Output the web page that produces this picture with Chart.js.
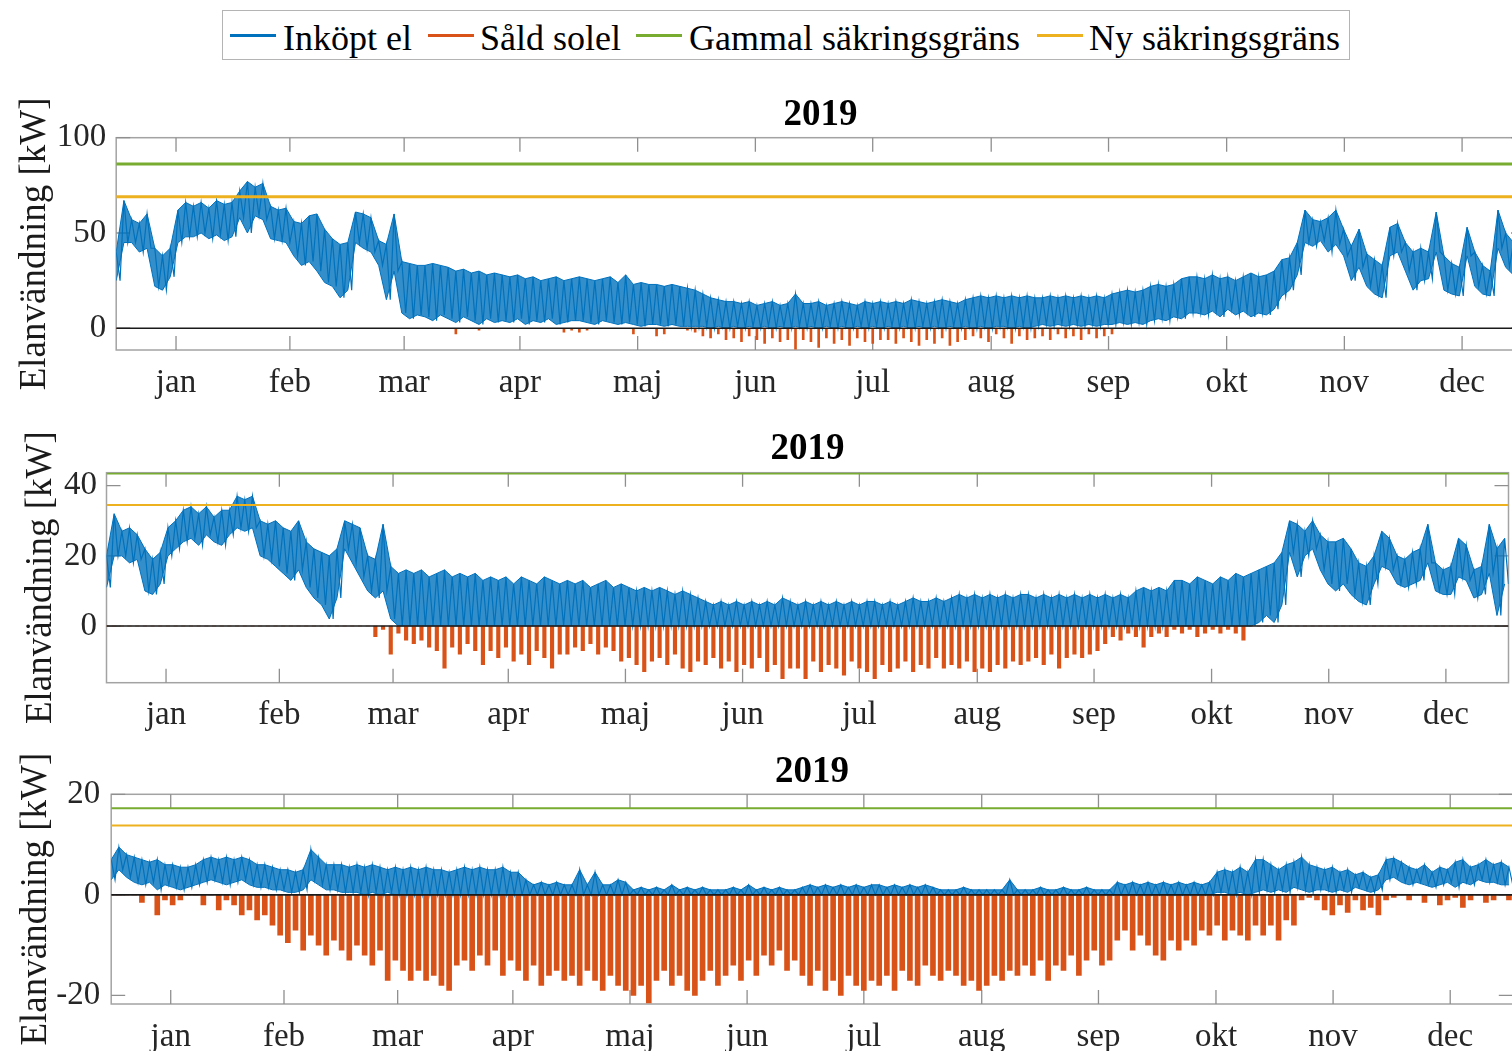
<!DOCTYPE html>
<html><head><meta charset="utf-8">
<script src="https://cdn.jsdelivr.net/npm/chart.js@4.4.1/dist/chart.umd.min.js"></script>
<style>
html,body{margin:0;padding:0;background:#fff;width:1512px;height:1051px;overflow:hidden;position:relative;font-family:"Liberation Serif","Times New Roman",serif;}
canvas{position:absolute;left:0;}
#legend{position:absolute;left:222px;top:10px;width:1128px;height:50px;border:1px solid #b4b4b4;box-sizing:border-box;background:#fff;}
.sw{position:absolute;height:2.5px;top:23px;width:46px;}
.lt{position:absolute;top:9px;font-size:36px;line-height:36px;color:#000;white-space:nowrap;}
</style></head>
<body>
<div id="legend">
  <div class="sw" style="left:7px;background:#0072BD"></div><span class="lt" style="left:60px">Inköpt el</span>
  <div class="sw" style="left:205px;background:#D95319"></div><span class="lt" style="left:257px">Såld solel</span>
  <div class="sw" style="left:413px;background:#77AC30"></div><span class="lt" style="left:466px">Gammal säkringsgräns</span>
  <div class="sw" style="left:814px;background:#EDB120"></div><span class="lt" style="left:866px">Ny säkringsgräns</span>
</div>
<canvas id="c1" width="1540" height="340" style="top:70px"></canvas>
<canvas id="c2" width="1540" height="330" style="top:410px"></canvas>
<canvas id="c3" width="1540" height="311" style="top:740px"></canvas>
<script>
// ---------- DATA (2-day samples, 183 per series, Jan 1 .. Dec 31 2019) ----------
const MONTHS = ['jan','feb','mar','apr','maj','jun','jul','aug','sep','okt','nov','dec'];
const TICK_DAYS = [15.5, 45, 74.6, 104.6, 135.1, 165.6, 196, 226.7, 257.1, 287.7, 318.2, 348.7];
const TITLE = '2019';
const Y_LABEL = 'Elanvändning [kW]';
const GAMMAL_GRANS = [86.25, 43.47, 17.25];
const NY_GRANS = [69, 34.5, 13.8];
const Y_TICKS = [[0, 50, 100], [0, 20, 40], [-20, 0, 20]];
const Y_MIN = [-11.4, -16.15, -21.7];
const Y_MAX = [100, 43.7, 20];

const P1_INKOPT_MAX = [
 40,67,57,55,60,42,38,42,62,66,
 64,66,63,67,65,66,72,77,74,76,
 64,62,63,56,55,59,60,52,47,44,
 45,61,60,58,46,44,60,35,34,33,
 33,34,33,32,30,31,29,30,28,29,
 28,27,28,26,27,25,26,27,25,26,
 27,26,25,26,27,24,28,23,24,23,
 23,22,23,22,21,20,18,16,15,14,
 14,13,14,12,13,14,12,13,18,13,
 13,14,12,13,14,13,12,14,13,14,
 13,14,13,15,14,13,14,15,14,13,
 15,16,17,16,17,16,17,16,17,16,
 16,17,16,17,16,17,16,17,16,18,
 19,20,19,20,22,23,22,23,26,27,
 27,26,28,26,27,25,27,29,27,28,
 30,36,37,45,62,57,56,58,62,52,
 43,52,39,36,33,53,55,45,40,42,
 40,61,38,34,32,53,40,33,30,62,
 50,45,48];
const P1_INKOPT_MIN = [
 25,45,45,40,42,22,20,27,45,48,
 48,50,47,49,46,48,58,50,59,57,
 47,46,45,38,33,35,30,24,22,16,
 20,45,42,40,33,15,30,8,5,7,
 6,4,7,5,3,6,4,2,5,3,
 4,3,5,2,4,3,5,2,3,4,
 4,3,2,4,3,2,3,2,1,2,
 2,1,2,1,1,1,1,0,1,0,
 1,0,1,0,1,0,1,0,1,0,
 1,0,1,0,1,0,1,0,1,0,
 1,0,1,0,1,0,1,0,1,0,
 1,0,1,0,1,1,0,1,0,1,
 2,1,2,1,2,1,2,1,2,2,
 3,2,3,2,4,5,4,6,5,8,
 8,7,9,6,10,7,9,6,8,7,
 10,17,20,28,45,43,46,40,44,38,
 25,32,22,18,16,38,40,30,20,25,
 26,40,20,18,17,38,22,18,17,42,
 32,28,30];
const P1_SALD = [
 0,0,0,0,0,0,0,0,0,0,
 0,0,0,0,0,0,0,0,0,0,
 0,0,0,0,0,0,0,0,0,0,
 0,0,0,0,0,0,0,0,0,0,
 0,0,0,0,-3,0,0,-1,0,0,
 0,0,0,0,0,0,0,0,-2,-1,
 -2,-1,0,0,0,0,0,-3,0,0,
 -4,-3,0,0,-1,-2,-4,-5,-3,-6,
 -5,-7,-4,-6,-8,-5,-7,-6,-11,-6,
 -7,-10,-5,-8,-6,-9,-5,-7,-8,-6,
 -6,-8,-5,-7,-9,-6,-8,-5,-9,-7,
 -6,-4,-5,-7,-3,-5,-8,-4,-6,-5,
 -4,-6,-3,-5,-4,-6,-3,-5,-4,-3,
 0,0,0,0,0,0,0,0,0,0,
 0,0,0,0,0,0,0,0,0,0,
 0,0,0,0,0,0,0,0,0,0,
 0,0,0,0,0,0,0,0,0,0,
 0,0,0,0,0,0,0,0,0,0,
 0,0,0];

const P2_INKOPT_MAX = [
 20,32,27,28,26,22,19,21,28,30,
 33,34,32,34,31,33,33,37,36,37,
 30,29,30,28,27,30,24,22,21,20,
 22,30,29,28,20,19,29,17,15,16,
 15,16,14,15,16,14,15,14,15,13,
 14,13,14,12,14,13,12,14,13,12,
 13,12,13,11,12,13,11,12,11,10,
 11,10,11,10,9,10,9,8,7,6,
 7,6,7,6,7,6,7,6,8,7,
 6,7,6,7,6,7,6,7,6,7,
 7,6,7,6,7,8,7,7,8,7,
 8,9,8,9,8,9,8,9,8,9,
 9,8,9,8,9,8,9,8,9,8,
 9,8,9,8,10,11,10,11,10,13,
 13,12,14,13,12,14,13,15,14,15,
 16,17,18,21,30,29,27,30,26,24,
 24,25,22,18,17,20,27,25,20,19,
 21,22,29,18,16,17,25,23,16,17,
 29,22,25];
const P2_INKOPT_MIN = [
 11,20,20,18,19,10,9,12,20,22,
 24,25,23,26,24,23,26,28,27,28,
 20,19,17,15,13,16,11,8,6,2,
 8,22,18,14,10,8,10,2,0,0,
 0,0,0,0,0,0,0,0,0,0,
 0,0,0,0,0,0,0,0,0,0,
 0,0,0,0,0,0,0,0,0,0,
 0,0,0,0,0,0,0,0,0,0,
 0,0,0,0,0,0,0,0,0,0,
 0,0,0,0,0,0,0,0,0,0,
 0,0,0,0,0,0,0,0,0,0,
 0,0,0,0,0,0,0,0,0,0,
 0,0,0,0,0,0,0,0,0,0,
 0,0,0,0,0,0,0,0,0,0,
 0,0,0,0,0,0,0,0,0,0,
 1,3,1,6,21,14,20,22,16,12,
 10,12,9,7,6,12,17,16,12,11,
 12,13,18,10,9,9,14,13,8,9,
 15,3,12];
const P2_SALD = [
 0,0,0,0,0,0,0,0,0,0,
 0,0,0,0,0,0,0,0,0,0,
 0,0,0,0,0,0,0,0,0,0,
 0,0,0,0,0,-3,-1,-8,-2,-4,
 -5,-4,-6,-7,-12,-6,-8,-5,-7,-11,
 -7,-9,-6,-10,-8,-11,-7,-9,-12,-8,
 -8,-6,-7,-5,-8,-6,-7,-10,-9,-11,
 -13,-10,-9,-11,-8,-12,-13,-10,-11,-9,
 -12,-10,-13,-11,-12,-9,-13,-11,-15,-12,
 -12,-15,-10,-13,-11,-12,-14,-10,-12,-13,
 -15,-11,-13,-12,-10,-13,-11,-12,-9,-12,
 -11,-12,-10,-13,-12,-13,-11,-12,-10,-11,
 -10,-9,-11,-8,-12,-9,-8,-9,-8,-7,
 -5,-3,-4,-2,-3,-6,-3,-2,-3,-1,
 -2,-1,-3,-2,-1,-2,-1,-2,-4,0,
 0,0,0,0,0,0,0,0,0,0,
 0,0,0,0,0,0,0,0,0,0,
 0,0,0,0,0,0,0,0,0,0,
 0,0,0];

const P3_INKOPT_MAX = [
 7,9.5,8,7.5,7,6.5,7,6,6,5.5,
 5.5,6,7,7.5,7,7.5,7,7.5,7,6,
 6,5.5,5,5,4.5,5,9,7.5,6,6,
 6,5.5,6,5.5,6,5.5,5,5.5,5,5.5,
 5,5.5,5,5,4.5,5,5.5,5,5.5,5,
 5,5.5,4.5,4.5,3,2,2.5,2,2.5,2,
 2,5,2,4.5,2,2,3,2.5,1,1.5,
 1,1.5,1,2,1,1.5,1,1.5,1,1,
 1,1.5,1,2,1,1.5,1,1.5,1,1,
 1.5,2,1.5,2,1.5,2,1.5,2,1.5,2,
 2,1.5,2,1.5,2,1.5,2,1.5,1,1,
 1,1.5,1,1,1,1,1,3,1,1,
 1,1.5,1,1,1.5,1,1,1.5,1,1,
 1,2.5,2,2.5,2,2.5,2,2.5,2,2.5,
 2,2.5,2,2.5,4.5,5,4.5,5.5,4.5,7,
 7,6,5,6,6.5,7.5,6,5.5,5,5.5,
 4.5,5,4,4.5,3.5,4,7,7.3,6.5,5.5,
 5,6,4.5,5.5,5,6.5,7,5.5,6,7,
 6,6.5,5.5];
const P3_INKOPT_MIN = [
 3,5,3.5,2.5,2,2.5,1,2,1.5,1,
 1.5,2,2.5,3,2.5,2,2.5,3,2,1.5,
 1.5,1,1,0.5,0.5,1,3,2,1,1,
 0.5,0.5,0.5,0,0.5,0,0.5,0,0,0,
 0,0,0,0,0,0,0,0,0,0,
 0,0,0,0,0,0,0,0,0,0,
 0,0,0,0,0,0,0,0,0,0,
 0,0,0,0,0,0,0,0,0,0,
 0,0,0,0,0,0,0,0,0,0,
 0,0,0,0,0,0,0,0,0,0,
 0,0,0,0,0,0,0,0,0,0,
 0,0,0,0,0,0,0,0,0,0,
 0,0,0,0,0,0,0,0,0,0,
 0,0,0,0,0,0,0,0,0,0,
 0,0,0,0,0.5,0.5,0,0.5,0,0.5,
 1,0.5,1,0.5,1.5,1,0.5,1,1,0.5,
 1,0.5,1.5,1,0.5,1,3,3.5,2.5,2,
 2.5,2,1.5,2,2.5,1.5,2.5,2,3,2.5,
 2.5,2,2];
const P3_SALD = [
 0,0,0,0,-1.5,0,-4,-1,-2,-1,
 0,0,-2,0,-3,-1,-2,-4,-3,-5,
 -4,-6,-8,-9.5,-7,-11,-8,-10,-12,-9,
 -11,-13,-10,-12,-14,-11,-17,-13,-15,-17,
 -15,-17,-16,-18,-19,-14,-13,-15,-12,-14,
 -11,-16,-13,-15,-17,-14,-18,-16,-15,-17,
 -16,-18,-15,-17,-19,-16,-18,-19,-20,-18,
 -21.5,-17,-15,-18,-16,-19,-20,-17,-15,-18,
 -16,-14,-17,-13,-16,-12,-14,-11,-15,-13,
 -16,-18,-15,-19,-17,-20,-16,-18,-19,-17,
 -18,-16,-19,-15,-17,-18,-14,-16,-17,-15,
 -16,-18,-17,-19,-18,-16,-17,-15,-16,-14,
 -16,-13,-17,-14,-15,-12,-16,-13,-11,-14,
 -13,-9,-7,-11,-8,-10,-12,-13,-9,-11,
 -9,-10,-7,-8,-6,-9,-7,-8,-9,-6,
 -8,-6,-9,-5,-6,-1,-0.5,-1,-3,-4,
 -2,-3.5,-1,-3,-2.5,-4,-1,-0.5,0,-1,
 0,-1.5,0,-2,-1,-0.5,-2.5,-1,0,-1.5,
 -1,0,-1];

// ---------- RENDERING ----------
const FONT = '"Liberation Serif","Times New Roman",serif';
Chart.defaults.font.family = FONT;
const BLUE = '#0072BD', BLUE_FILL = 'rgba(0,114,189,0.8)', RED = '#D95319', GREEN = '#77AC30', ORANGE = '#EDB120';

const panelDecor = {
  id: 'panelDecor',
  beforeDatasetsDraw(chart, args, opts) {
    const {ctx, chartArea: a, scales} = chart;
    ctx.save();
    ctx.strokeStyle = '#a3a3a3';
    ctx.lineWidth = 1.5;
    ctx.strokeRect(a.left, a.top, a.right - a.left, a.bottom - a.top);
    ctx.strokeStyle = '#8f8f8f';
    ctx.lineWidth = 1.3;
    const L = 14;
    ctx.beginPath();
    for (const t of scales.x.ticks) {
      const px = scales.x.getPixelForValue(t.value);
      ctx.moveTo(px, a.bottom); ctx.lineTo(px, a.bottom - L);
      ctx.moveTo(px, a.top); ctx.lineTo(px, a.top + L);
    }
    for (const t of scales.y.ticks) {
      const py = scales.y.getPixelForValue(t.value);
      ctx.moveTo(a.left, py); ctx.lineTo(a.left + L, py);
      ctx.moveTo(a.right, py); ctx.lineTo(a.right - L, py);
    }
    ctx.stroke();
    ctx.restore();
  },
  afterDraw(chart, args, opts) {
    const {ctx, chartArea: a} = chart;
    ctx.save();
    ctx.fillStyle = '#000';
    ctx.font = 'bold 37px ' + FONT;
    ctx.textAlign = 'center';
    ctx.textBaseline = 'middle';
    ctx.fillText(opts.title, (a.left + a.right) / 2, opts.titleY);
    ctx.restore();
  }
};

const N = P1_INKOPT_MAX.length;
const dayOf = i => i * 364 / (N - 1);
const toPts = arr => arr.map((v, i) => ({x: dayOf(i), y: v}));
// daily peak / trough sequence: each 2-day sample's max, then its min one day later
const zigzag = (hi, lo) => hi.flatMap((v, i) => [{x: dayOf(i), y: v}, {x: dayOf(i) + 1, y: lo[i]}]);
const hline = v => [{x: 0, y: v}, {x: 365, y: v}];

const LAYOUT = [
  {id: 'c1', top: 67.7, right: 15,   yW: 116.2, xH: 60,   titleY: 45, yTitlePad: 12.8, yTickPad: 10,  xTickPad: 14, limW: 3, barW: 2},
  {id: 'c2', top: 62.7, right: 31.5, yW: 106.5, xH: 57.3, titleY: 39, yTitlePad: 19.3, yTickPad: 9.5, xTickPad: 13, limW: 2, barW: 3.5},
  {id: 'c3', top: 54.3, right: 27.2, yW: 111.2, xH: 47,   titleY: 32, yTitlePad: 13.8, yTickPad: 11,  xTickPad: 14, limW: 2, barW: 5}
];
const SERIES = [
  {hi: P1_INKOPT_MAX, lo: P1_INKOPT_MIN, sold: P1_SALD},
  {hi: P2_INKOPT_MAX, lo: P2_INKOPT_MIN, sold: P2_SALD},
  {hi: P3_INKOPT_MAX, lo: P3_INKOPT_MIN, sold: P3_SALD}
];

LAYOUT.forEach((L, p) => {
  const S = SERIES[p];
  new Chart(document.getElementById(L.id), {
    type: 'line',
    data: {
      datasets: [
        {label: 'zero', data: hline(0), borderColor: '#1a1a1a', borderWidth: 1.6, pointRadius: 0, fill: false},
        {label: 'Ny säkringsgräns', data: hline(NY_GRANS[p]), borderColor: ORANGE, borderWidth: L.limW, pointRadius: 0, fill: false},
        {label: 'Gammal säkringsgräns', data: hline(GAMMAL_GRANS[p]), borderColor: GREEN, borderWidth: L.limW, pointRadius: 0, fill: false},
        {type: 'bar', label: 'Såld solel', data: toPts(S.sold), backgroundColor: RED, borderWidth: 0, barThickness: L.barW},
        {label: 'Inköpt el', data: zigzag(S.hi, S.lo), borderColor: BLUE, borderWidth: 1.2, pointRadius: 0, fill: false, tension: 0},
        {label: 'Inköpt el band max', data: toPts(S.hi), borderColor: BLUE, backgroundColor: BLUE_FILL, borderWidth: 1, pointRadius: 0, fill: '+1', tension: 0},
        {label: 'Inköpt el band min', data: toPts(S.lo), borderColor: BLUE, borderWidth: 1, pointRadius: 0, fill: false, tension: 0}
      ]
    },
    options: {
      responsive: false,
      animation: false,
      devicePixelRatio: 1,
      events: [],
      layout: {padding: {left: 0, top: L.top, right: L.right, bottom: 0}},
      plugins: {
        legend: {display: false},
        tooltip: {enabled: false},
        title: {display: false},
        panelDecor: {title: TITLE, titleY: L.titleY}
      },
      scales: {
        x: {
          type: 'linear', min: 0, max: 365, offset: false,
          grid: {display: false, drawTicks: false}, border: {display: false},
          ticks: {font: {size: 33}, color: '#262626', padding: L.xTickPad, maxRotation: 0, autoSkip: false,
                  callback: (v, i) => MONTHS[i]},
          afterBuildTicks: s => { s.ticks = TICK_DAYS.map(v => ({value: v})); },
          afterFit: s => { s.height = L.xH; }
        },
        y: {
          type: 'linear', min: Y_MIN[p], max: Y_MAX[p],
          grid: {display: false, drawTicks: false}, border: {display: false},
          ticks: {font: {size: 33}, color: '#262626', padding: L.yTickPad},
          afterBuildTicks: s => { s.ticks = Y_TICKS[p].map(v => ({value: v})); },
          afterFit: s => { s.width = L.yW; },
          title: {display: true, text: Y_LABEL, font: {size: 37}, color: '#1a1a1a', padding: {top: L.yTitlePad, bottom: 0}}
        }
      }
    },
    plugins: [panelDecor]
  });
});
</script>
</body></html>
